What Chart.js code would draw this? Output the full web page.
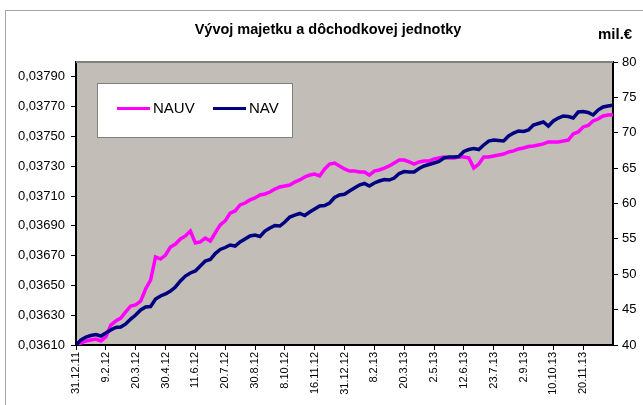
<!DOCTYPE html>
<html>
<head>
<meta charset="utf-8">
<script src="https://cdn.jsdelivr.net/npm/chart.js@4.4.0/dist/chart.umd.min.js"></script>
<style>
html, body { margin: 0; padding: 0; background: #fff; }
#wrap { position: relative; width: 643px; height: 405px; }
</style>
</head>
<body>
<div id="wrap"><canvas id="chart" width="643" height="405"></canvas></div>
<script>
const chartTitle = 'Vývoj majetku a dôchodkovej jednotky';
const rightUnit = 'mil.€';
const seriesNames = ['NAUV', 'NAV'];

// one label every 6 points
const dateLabels = ['31.12.11', '9.2.12', '20.3.12', '30.4.12', '11.6.12', '20.7.12',
    '30.8.12', '8.10.12', '16.11.12', '31.12.12', '8.2.13', '20.3.13', '2.5.13',
    '12.6.13', '23.7.13', '2.9.13', '10.10.13', '20.11.13'];
const pointsPerLabel = 6;

const leftTicks = [0.0361, 0.0363, 0.0365, 0.0367, 0.0369, 0.0371, 0.0373, 0.0375, 0.0377, 0.0379];

// NAUV (left axis)
const nauv = [
    0.036100, 0.036113, 0.036127, 0.036134, 0.036140, 0.036127,
    0.036154, 0.036234, 0.036261, 0.036281, 0.036322, 0.036362,
    0.036369, 0.036395, 0.036476, 0.036536, 0.036691, 0.036677,
    0.036704, 0.036758, 0.036778, 0.036812, 0.036832, 0.036865,
    0.036785, 0.036792, 0.036818, 0.036798, 0.036852, 0.036906,
    0.036933, 0.036986, 0.037000, 0.037040, 0.037053, 0.037074,
    0.037087, 0.037107, 0.037114, 0.037127, 0.037147, 0.037161,
    0.037168, 0.037174, 0.037194, 0.037208, 0.037228, 0.037241,
    0.037248, 0.037235, 0.037282, 0.037315, 0.037322, 0.037302,
    0.037282, 0.037268, 0.037268, 0.037262, 0.037262, 0.037241,
    0.037268, 0.037275, 0.037288, 0.037302, 0.037322, 0.037342,
    0.037342, 0.037329, 0.037315, 0.037329, 0.037335, 0.037335,
    0.037349, 0.037356, 0.037362, 0.037356, 0.037356, 0.037362,
    0.037362, 0.037356, 0.037288, 0.037315, 0.037362, 0.037362,
    0.037369, 0.037376, 0.037382, 0.037396, 0.037403, 0.037416,
    0.037423, 0.037433, 0.037436, 0.037443, 0.037450, 0.037463,
    0.037463, 0.037463, 0.037470, 0.037476, 0.037517, 0.037530,
    0.037564, 0.037574, 0.037604, 0.037617, 0.037638, 0.037644,
    0.037646
];

// NAV in mil. € (right axis)
const nav = [
    40.00, 40.71, 41.13, 41.34, 41.48, 41.27,
    41.70, 42.12, 42.47, 42.54, 42.97, 43.67,
    44.24, 44.95, 45.37, 45.44, 46.50, 46.93,
    47.21, 47.63, 48.20, 49.05, 49.75, 50.18,
    50.46, 51.17, 51.87, 52.08, 52.93, 53.50,
    53.78, 54.13, 53.99, 54.56, 54.98, 55.41,
    55.55, 55.34, 56.11, 56.54, 56.89, 56.82,
    57.38, 58.09, 58.37, 58.59, 58.30, 58.80,
    59.22, 59.65, 59.72, 60.07, 60.85, 61.20,
    61.30, 61.77, 62.19, 62.61, 62.83, 62.47,
    62.90, 63.18, 63.39, 63.32, 63.60, 64.24,
    64.52, 64.45, 64.45, 64.95, 65.30, 65.51,
    65.72, 65.94, 66.43, 66.57, 66.57, 66.64,
    67.35, 67.63, 67.77, 67.63, 68.27, 68.83,
    68.97, 68.90, 68.83, 69.54, 69.96, 70.25,
    70.18, 70.39, 71.09, 71.31, 71.52, 70.95,
    71.66, 72.08, 72.37, 72.30, 72.08, 72.93,
    73.00, 72.86, 72.51, 73.21, 73.64, 73.78,
    73.88
];

const FONT = 'Arial, "Liberation Sans", sans-serif';
Chart.defaults.font.family = FONT;
Chart.defaults.color = '#000';

const toPoints = arr => arr.map((v, i) => ({ x: i / pointsPerLabel, y: v }));

// plot background, frame, title, unit and legend box
const decorations = {
    id: 'decorations',
    beforeDraw(chart) {
        const { ctx, chartArea: a } = chart;
        ctx.save();
        ctx.fillStyle = '#c2beb7';
        ctx.fillRect(a.left, a.top, a.right - a.left, a.bottom - a.top);
        ctx.strokeStyle = '#a6a6a6';
        ctx.lineWidth = 1;
        ctx.strokeRect(5.5, 10.5, 700, 500);
        ctx.restore();
    },
    afterDraw(chart) {
        const { ctx, chartArea: a } = chart;
        ctx.save();
        // top edge of plot
        ctx.strokeStyle = '#808080';
        ctx.lineWidth = 2;
        ctx.beginPath();
        ctx.moveTo(a.left, a.top);
        ctx.lineTo(a.right, a.top);
        ctx.stroke();

        ctx.fillStyle = '#000';
        ctx.textBaseline = 'middle';
        ctx.font = 'bold 14.5px ' + FONT;
        ctx.textAlign = 'center';
        ctx.fillText(chartTitle, 328, 30);
        ctx.font = 'bold 15px ' + FONT;
        ctx.textAlign = 'left';
        ctx.fillText(rightUnit, 598, 35);

        // legend
        ctx.fillStyle = '#fff';
        ctx.fillRect(97, 83, 196, 55);
        ctx.strokeStyle = '#808080';
        ctx.lineWidth = 1;
        ctx.strokeRect(97.5, 83.5, 195, 54);
        let x = 117;
        ctx.font = '15px ' + FONT;
        chart.data.datasets.slice().sort((p, q) => p.legendIndex - q.legendIndex).forEach(ds => {
            ctx.strokeStyle = ds.borderColor;
            ctx.lineWidth = 3;
            ctx.beginPath();
            ctx.moveTo(x, 108.5);
            ctx.lineTo(x + 33, 108.5);
            ctx.stroke();
            ctx.fillStyle = '#000';
            ctx.fillText(ds.label, x + 36, 109);
            x += 96;
        });
        ctx.restore();
    }
};

new Chart(document.getElementById('chart'), {
    type: 'line',
    data: {
        datasets: [
            { label: seriesNames[0], legendIndex: 0, data: toPoints(nauv), yAxisID: 'yL',
              borderColor: '#ff00ff', borderWidth: 3.5, order: 1 },
            { label: seriesNames[1], legendIndex: 1, data: toPoints(nav), yAxisID: 'yR',
              borderColor: '#000080', borderWidth: 3.5, order: 0 }
        ]
    },
    options: {
        responsive: false,
        animation: false,
        layout: { padding: { top: 62, left: 0, right: 0, bottom: 0 } },
        elements: { point: { radius: 0 }, line: { tension: 0 } },
        plugins: { legend: { display: false }, title: { display: false }, tooltip: { enabled: false } },
        scales: {
            x: {
                type: 'linear',
                min: 0,
                max: 18,
                afterFit: s => { s.height = 60; },
                afterBuildTicks: s => { s.ticks = dateLabels.map((_, i) => ({ value: i })); },
                grid: { drawOnChartArea: false, tickLength: 5, color: '#000' },
                border: { color: '#000', width: 2 },
                ticks: {
                    autoSkip: false,
                    minRotation: 90,
                    maxRotation: 90,
                    padding: 2,
                    font: { size: 11 },
                    callback: v => dateLabels[v] ?? ''
                }
            },
            yL: {
                position: 'left',
                min: 0.0361,
                max: 0.0380,
                afterFit: s => { s.width = 76; },
                afterBuildTicks: s => { s.ticks = leftTicks.map(v => ({ value: v })); },
                grid: { drawOnChartArea: false, tickLength: 5, color: '#000' },
                border: { color: '#000', width: 2 },
                ticks: {
                    padding: 6,
                    font: { size: 13 },
                    callback: v => v.toFixed(5).replace('.', ',')
                }
            },
            yR: {
                position: 'right',
                min: 40,
                max: 80,
                afterFit: s => { s.width = 30; },
                grid: { drawOnChartArea: false, tickLength: 5, color: '#000' },
                border: { color: '#000', width: 2 },
                ticks: { stepSize: 5, padding: 4, font: { size: 13 } }
            }
        }
    },
    plugins: [decorations]
});
</script>
</body>
</html>
